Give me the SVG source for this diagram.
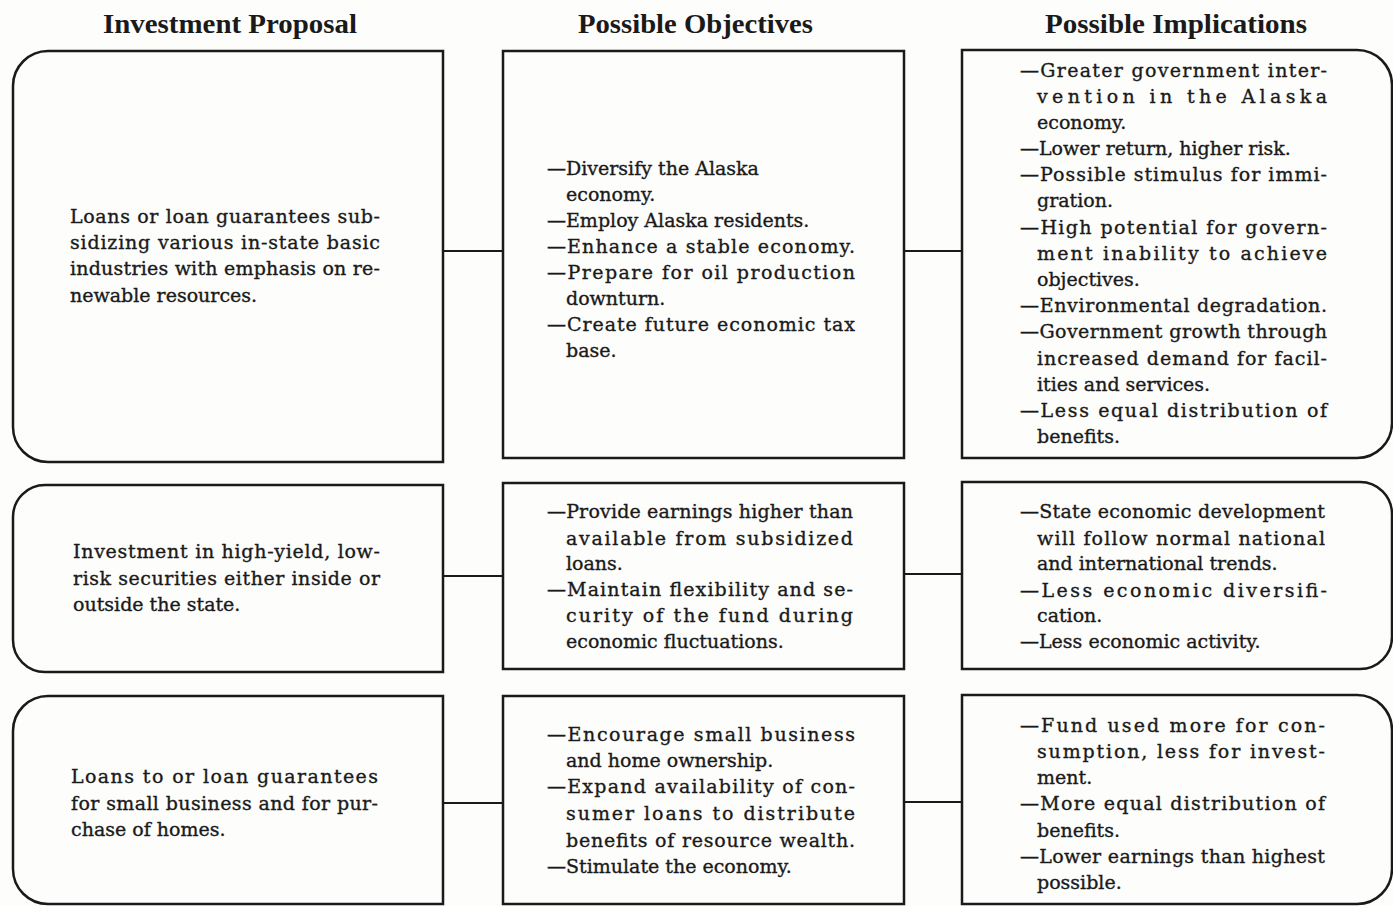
<svg xmlns="http://www.w3.org/2000/svg" width="1393" height="906" viewBox="0 0 1393 906">
<style>
.bg{fill:#fdfdfc}
.box{fill:none;stroke:#1a1a1a;stroke-width:2.5}
.con{stroke:#1a1a1a;stroke-width:2.2;fill:none}
.h{font-family:"Liberation Serif","Times New Roman",serif;font-weight:bold;font-size:27px;fill:#1a1a1a}
.t{font-family:"DejaVu Serif","Liberation Serif",serif;font-size:19px;fill:#1a1a1a;stroke:#1a1a1a;stroke-width:0.35}
</style>
<rect class="bg" x="0" y="0" width="1393" height="906"/>
<g id="headers">
<text class="h" x="103" y="33" textLength="254" lengthAdjust="spacingAndGlyphs">Investment Proposal</text>
<text class="h" x="578" y="33" textLength="235" lengthAdjust="spacingAndGlyphs">Possible Objectives</text>
<text class="h" x="1045" y="33" textLength="262" lengthAdjust="spacingAndGlyphs">Possible Implications</text>
</g>
<g id="connectors">
<line class="con" x1="443" y1="251" x2="503" y2="251"/>
<line class="con" x1="904" y1="251" x2="962" y2="251"/>
<line class="con" x1="443" y1="576" x2="503" y2="576"/>
<line class="con" x1="904" y1="574" x2="962" y2="574"/>
<line class="con" x1="443" y1="803" x2="503" y2="803"/>
<line class="con" x1="904" y1="802" x2="962" y2="802"/>
</g>
<g id="proposal1">
<path class="box" d="M443,51 H48 A35,35 0 0 0 13,86 V427 A35,35 0 0 0 48,462 H443 Z"/>
<text class="t" x="70" y="223" textLength="310" lengthAdjust="spacing">Loans or loan guarantees sub-</text>
<text class="t" x="70" y="249" textLength="310" lengthAdjust="spacing">sidizing various in-state basic</text>
<text class="t" x="70" y="275" textLength="310" lengthAdjust="spacing">industries with emphasis on re-</text>
<text class="t" x="70" y="302">newable resources.</text>
</g>
<g id="objectives1">
<rect class="box" x="503" y="51" width="401" height="407"/>
<text class="t" x="547" y="175">—Diversify the Alaska</text>
<text class="t" x="566" y="201">economy.</text>
<text class="t" x="547" y="227">—Employ Alaska residents.</text>
<text class="t" x="547" y="253" textLength="308" lengthAdjust="spacing">—Enhance a stable economy.</text>
<text class="t" x="547" y="279" textLength="308" lengthAdjust="spacing">—Prepare for oil production</text>
<text class="t" x="566" y="305">downturn.</text>
<text class="t" x="547" y="331" textLength="308" lengthAdjust="spacing">—Create future economic tax</text>
<text class="t" x="566" y="357">base.</text>
</g>
<g id="implications1">
<path class="box" d="M962,50 H1357 A35,35 0 0 1 1392,85 V423 A35,35 0 0 1 1357,458 H962 Z"/>
<text class="t" x="1020" y="77" textLength="307" lengthAdjust="spacing">—Greater government inter-</text>
<text class="t" x="1037" y="103" textLength="290" lengthAdjust="spacing">vention in the Alaska</text>
<text class="t" x="1037" y="129">economy.</text>
<text class="t" x="1020" y="155">—Lower return, higher risk.</text>
<text class="t" x="1020" y="181" textLength="307" lengthAdjust="spacing">—Possible stimulus for immi-</text>
<text class="t" x="1037" y="207">gration.</text>
<text class="t" x="1020" y="234" textLength="307" lengthAdjust="spacing">—High potential for govern-</text>
<text class="t" x="1037" y="260" textLength="290" lengthAdjust="spacing">ment inability to achieve</text>
<text class="t" x="1037" y="286">objectives.</text>
<text class="t" x="1020" y="312" textLength="307" lengthAdjust="spacing">—Environmental degradation.</text>
<text class="t" x="1020" y="338" textLength="307" lengthAdjust="spacing">—Government growth through</text>
<text class="t" x="1037" y="365" textLength="290" lengthAdjust="spacing">increased demand for facil-</text>
<text class="t" x="1037" y="391">ities and services.</text>
<text class="t" x="1020" y="417" textLength="307" lengthAdjust="spacing">—Less equal distribution of</text>
<text class="t" x="1037" y="443">benefits.</text>
</g>
<g id="proposal2">
<path class="box" d="M443,485 H45 A32,32 0 0 0 13,517 V640 A32,32 0 0 0 45,672 H443 Z"/>
<text class="t" x="73" y="558" textLength="307" lengthAdjust="spacing">Investment in high-yield, low-</text>
<text class="t" x="73" y="585" textLength="307" lengthAdjust="spacing">risk securities either inside or</text>
<text class="t" x="73" y="611">outside the state.</text>
</g>
<g id="objectives2">
<rect class="box" x="503" y="483" width="401" height="186"/>
<text class="t" x="547" y="518" textLength="306" lengthAdjust="spacing">—Provide earnings higher than</text>
<text class="t" x="566" y="545" textLength="287" lengthAdjust="spacing">available from subsidized</text>
<text class="t" x="566" y="570">loans.</text>
<text class="t" x="547" y="596" textLength="306" lengthAdjust="spacing">—Maintain flexibility and se-</text>
<text class="t" x="566" y="622" textLength="287" lengthAdjust="spacing">curity of the fund during</text>
<text class="t" x="566" y="648">economic fluctuations.</text>
</g>
<g id="implications2">
<path class="box" d="M962,482 H1360 A32,32 0 0 1 1392,514 V637 A32,32 0 0 1 1360,669 H962 Z"/>
<text class="t" x="1020" y="518" textLength="305" lengthAdjust="spacing">—State economic development</text>
<text class="t" x="1037" y="545" textLength="288" lengthAdjust="spacing">will follow normal national</text>
<text class="t" x="1037" y="570">and international trends.</text>
<text class="t" x="1020" y="597" textLength="307" lengthAdjust="spacing">—Less economic diversifi-</text>
<text class="t" x="1037" y="622">cation.</text>
<text class="t" x="1020" y="648">—Less economic activity.</text>
</g>
<g id="proposal3">
<path class="box" d="M443,696 H48 A35,35 0 0 0 13,731 V869 A35,35 0 0 0 48,904 H443 Z"/>
<text class="t" x="71" y="783" textLength="307" lengthAdjust="spacing">Loans to or loan guarantees</text>
<text class="t" x="71" y="810" textLength="307" lengthAdjust="spacing">for small business and for pur-</text>
<text class="t" x="71" y="836">chase of homes.</text>
</g>
<g id="objectives3">
<rect class="box" x="503" y="696" width="401" height="208"/>
<text class="t" x="547" y="741" textLength="308" lengthAdjust="spacing">—Encourage small business</text>
<text class="t" x="566" y="767">and home ownership.</text>
<text class="t" x="547" y="793" textLength="308" lengthAdjust="spacing">—Expand availability of con-</text>
<text class="t" x="566" y="820" textLength="289" lengthAdjust="spacing">sumer loans to distribute</text>
<text class="t" x="566" y="847" textLength="289" lengthAdjust="spacing">benefits of resource wealth.</text>
<text class="t" x="547" y="873">—Stimulate the economy.</text>
</g>
<g id="implications3">
<path class="box" d="M962,695 H1357 A35,35 0 0 1 1392,730 V869 A35,35 0 0 1 1357,904 H962 Z"/>
<text class="t" x="1020" y="732" textLength="305" lengthAdjust="spacing">—Fund used more for con-</text>
<text class="t" x="1037" y="758" textLength="288" lengthAdjust="spacing">sumption, less for invest-</text>
<text class="t" x="1037" y="784">ment.</text>
<text class="t" x="1020" y="810" textLength="305" lengthAdjust="spacing">—More equal distribution of</text>
<text class="t" x="1037" y="837">benefits.</text>
<text class="t" x="1020" y="863" textLength="305" lengthAdjust="spacing">—Lower earnings than highest</text>
<text class="t" x="1037" y="889">possible.</text>
</g>
</svg>
